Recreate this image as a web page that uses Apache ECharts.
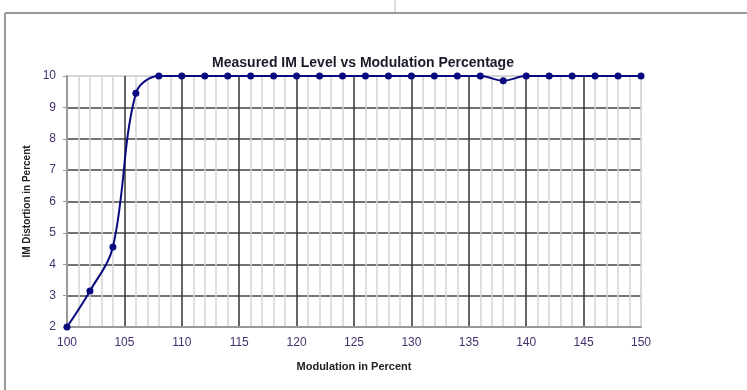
<!DOCTYPE html>
<html>
<head>
<meta charset="utf-8">
<script src="https://cdn.jsdelivr.net/npm/echarts@6/dist/echarts.min.js"></script>
<style>
html,body{margin:0;padding:0;background:#fff;}
#chart{width:747px;height:390px;}
</style>
</head>
<body>
<div id="chart"></div>
<script>
var modulation = [100,102,104,106,108,110,112,114,116,118,120,122,124,126,128,130,132,134,136,138,140,142,144,146,148,150];
var distortion = [2,3.15,4.55,9.45,10,10,10,10,10,10,10,10,10,10,10,10,10,10,10,9.85,10,10,10,10,10,10];

var points = modulation.map(function(m, i){ return [m, distortion[i]]; });

var myChart = echarts.init(document.getElementById('chart'));

var labelColor = '#43306a';

option = {
    backgroundColor: '#fff',
    animation: false,
    title: {
        text: 'Measured IM Level vs Modulation Percentage',
        left: 358,
        textAlign: 'center',
        top: 51,
        textStyle: {fontFamily: 'Liberation Sans', fontSize: 14, fontWeight: 'bold', color: '#1a1a2a'}
    },
    grid: {left: 67, right: 106, top: 76, bottom: 63},
    xAxis: {
        type: 'value',
        min: 100, max: 150, interval: 5,
        name: 'Modulation in Percent',
        nameLocation: 'middle',
        nameGap: 34,
        nameTextStyle: {fontFamily: 'Liberation Sans', fontSize: 11, fontWeight: 'bold', color: '#222'},
        axisLine: {lineStyle: {color: '#999', width: 2}},
        axisTick: {show: false},
        axisLabel: {fontFamily: 'Liberation Sans', fontSize: 12, color: labelColor, margin: 10},
        splitLine: {show: true, lineStyle: {color: ['#999','#333','#333','#333','#333','#333','#333','#333','#333','#333','#ccc'], width: 1.5}},
        minorTick: {show: false, splitNumber: 5},
        minorSplitLine: {show: true, lineStyle: {color: '#d4d4d4', width: 1.5}}
    },
    yAxis: {
        type: 'value',
        min: 2, max: 10, interval: 1,
        name: 'IM Distortion in Percent',
        nameLocation: 'middle',
        nameGap: 34,
        nameTextStyle: {fontFamily: 'Liberation Sans', fontSize: 10, fontWeight: 'bold', color: '#222'},
        axisLine: {show: true, lineStyle: {color: '#999', width: 2}},
        axisTick: {show: true, length: 4, lineStyle: {color: '#999'}},
        axisLabel: {fontFamily: 'Liberation Sans', fontSize: 12, color: labelColor, margin: 11},
        splitLine: {show: true, lineStyle: {color: ['#999','#444','#444','#444','#444','#444','#444','#444','#c8c8c8'], width: 1.5}}
    },
    series: [
        {
            type: 'line',
            data: points,
            smooth: 0.35,
            symbol: 'circle',
            symbolSize: 7,
            itemStyle: {color: '#0a0a80'},
            lineStyle: {color: '#0a0a80', width: 2},
            z: 5
        }
    ],
    graphic: [
        {type: 'line', shape: {x1: 5, y1: 13, x2: 747, y2: 13}, style: {stroke: '#999', lineWidth: 2}},
        {type: 'line', shape: {x1: 5, y1: 13, x2: 5, y2: 390}, style: {stroke: '#999', lineWidth: 2}},
        {type: 'line', shape: {x1: 395, y1: 0, x2: 395, y2: 12}, style: {stroke: '#bbb', lineWidth: 1}}
    ]
};
myChart.setOption(option);
window.addEventListener('resize', function(){
    myChart.resize();
});
</script>
</body>
</html>
